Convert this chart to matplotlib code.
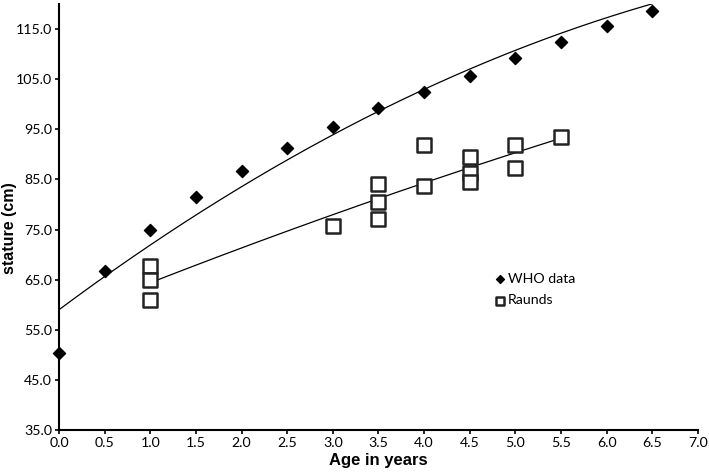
import numpy as np
import matplotlib
matplotlib.use("Agg")
import matplotlib.pyplot as plt

# WHO reference stature by age
who_age = [0.0, 0.5, 1.0, 1.5, 2.0, 2.5, 3.0, 3.5, 4.0, 4.5, 5.0, 5.5, 6.0, 6.5]
who_stature = [50.4, 66.7, 74.9, 81.4, 86.6, 91.3, 95.5, 99.3, 102.5, 105.6, 109.2, 112.4, 115.6, 118.5]

# Raunds estimates
raunds_age = [1.0, 1.0, 1.0, 3.0, 3.5, 3.5, 3.5, 4.0, 4.0, 4.5, 4.5, 4.5, 5.0, 5.0, 5.5]
raunds_stature = [67.7, 65.0, 60.9, 75.7, 84.0, 80.4, 77.0, 91.9, 83.6, 89.5, 86.3, 84.4, 91.9, 87.3, 93.5]

# WHO trend line as drawn in the figure (order 2 polynomial)
who_trend = [-0.64, 13.55, 59.0]

x_ticks = np.arange(0, 7.01, 0.5)
y_ticks = np.arange(35, 115.1, 10)

fig = plt.figure(figsize=(7.09, 4.75), dpi=100)
ax = fig.add_axes([0.0832, 0.0947, 0.9013, 0.897])

xx = np.linspace(min(who_age), max(who_age), 200)
ax.plot(xx, np.polyval(who_trend, xx), color='black', linewidth=0.9)

coef = np.polyfit(raunds_age, raunds_stature, 2)
xr = np.linspace(min(raunds_age), max(raunds_age), 200)
ax.plot(xr, np.polyval(coef, xr), color='black', linewidth=0.9)

ax.scatter(who_age, who_stature, marker='D', s=38, color='black', label='WHO data', zorder=3, clip_on=False)
ax.scatter(raunds_age, raunds_stature, marker='s', s=90, facecolor='white',
           edgecolor='#222222', linewidth=1.8, label='Raunds', zorder=3)

ax.set_xlim(0, 7)
ax.set_ylim(35, 120)
ax.set_xticks(x_ticks)
ax.set_yticks(y_ticks)
ax.set_xticklabels([f"{v:.1f}" for v in x_ticks])
ax.set_yticklabels([f"{v:.1f}" for v in y_ticks])
ax.tick_params(direction='out', length=3, width=1.2, labelsize=10.2, pad=2)
for lab in ax.get_xticklabels() + ax.get_yticklabels():
    lab.set_fontfamily('Lato')

for side in ['top', 'right']:
    ax.spines[side].set_visible(False)
for side in ['left', 'bottom']:
    ax.spines[side].set_linewidth(1.5)

ax.set_xlabel('Age in years', fontsize=12, fontweight='bold', family='Liberation Sans', labelpad=3)
ax.set_ylabel('stature (cm)', fontsize=11.5, fontweight='bold', family='Liberation Sans')
ax.yaxis.set_label_coords(-0.066, 0.474)

leg = ax.legend(loc='upper left', bbox_to_anchor=(0.668, 0.385), frameon=False,
                prop={'family': 'Lato', 'size': 10.2}, handletextpad=0.05,
                handlelength=1.0, borderpad=0, labelspacing=0.65, markerscale=0.65)

fig.savefig('out.png', dpi=100)
